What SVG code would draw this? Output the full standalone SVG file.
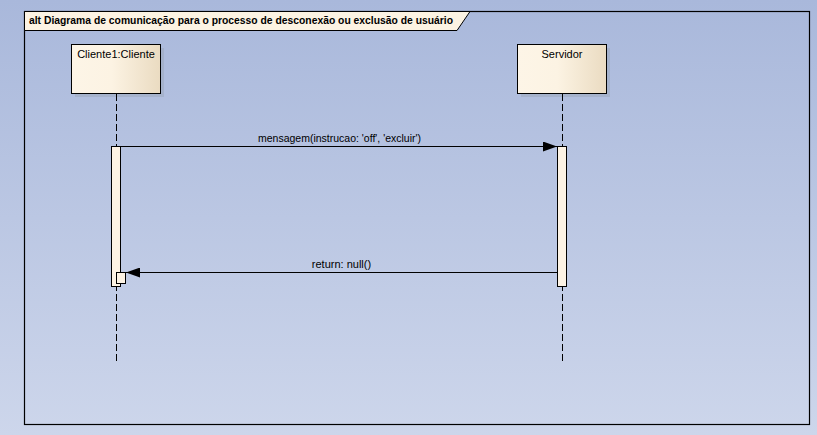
<svg xmlns="http://www.w3.org/2000/svg" width="817" height="435" viewBox="0 0 817 435">
<defs>
<linearGradient id="bg" x1="0" y1="0" x2="0" y2="1">
<stop offset="0" stop-color="#a9b8db"/>
<stop offset="1" stop-color="#cdd6eb"/>
</linearGradient>
<linearGradient id="box" x1="0" y1="0" x2="1" y2="0">
<stop offset="0" stop-color="#fdf5e7"/>
<stop offset="0.45" stop-color="#fcf3e3"/>
<stop offset="1" stop-color="#eadbc1"/>
</linearGradient>
<marker id="arr" markerWidth="14" markerHeight="10" refX="14" refY="5" orient="auto" markerUnits="userSpaceOnUse">
<path d="M0,0 L14,5 L0,10 Z" fill="#000"/>
</marker>
</defs>
<style>
text{font-family:"Liberation Sans",Arial,sans-serif;font-size:11px;fill:#000}
.title{font-weight:bold}
.life{stroke:#000;stroke-width:1;stroke-dasharray:7,3;fill:none}
.obj{fill:url(#box);stroke:#000;stroke-width:1}
.shadow{fill:#9aa3b6;opacity:0.45}
.act{fill:#fdf3e4;stroke:#000;stroke-width:1}
.msg{stroke:#000;stroke-width:1;fill:none}
</style>
<rect x="0" y="0" width="817" height="435" fill="url(#bg)"/>
<g id="frame">
<rect x="24.5" y="11.5" width="785" height="413" fill="none" stroke="#000" stroke-width="1.2"/>
<path d="M24.5,11.5 H470 L457,30.5 H24.5 Z" fill="#fcf3e3" stroke="#000" stroke-width="1"/>
<text class="title" x="29" y="23.5" textLength="424" lengthAdjust="spacingAndGlyphs">alt Diagrama de comunicação para o processo de desconexão ou exclusão de usuário</text>
</g>
<g id="cliente">
<rect class="shadow" x="75" y="48" width="89" height="49"/>
<rect class="obj" x="71.5" y="44.5" width="89" height="49"/>
<text x="116" y="58" text-anchor="middle">Cliente1:Cliente</text>
<line class="life" x1="116.5" y1="94" x2="116.5" y2="362"/>
<rect class="act" x="111.5" y="146.5" width="9" height="140"/>
<rect class="act" x="116.5" y="272.5" width="9" height="11"/>
</g>
<g id="servidor">
<rect class="shadow" x="521" y="48" width="89" height="49"/>
<rect class="obj" x="517.5" y="44.5" width="89" height="49"/>
<text x="562" y="58" text-anchor="middle">Servidor</text>
<line class="life" x1="562.5" y1="94" x2="562.5" y2="362"/>
<rect class="act" x="557.5" y="146.5" width="9" height="140"/>
</g>
<g id="connectors">
<line class="msg" x1="121" y1="146.5" x2="557" y2="146.5" marker-end="url(#arr)"/>
<text x="258" y="142" textLength="163" lengthAdjust="spacingAndGlyphs">mensagem(instrucao: 'off', 'excluir')</text>
<line class="msg" x1="557" y1="272.5" x2="126" y2="272.5" marker-end="url(#arr)"/>
<text x="341.5" y="268" text-anchor="middle">return: null()</text>
</g>
</svg>
